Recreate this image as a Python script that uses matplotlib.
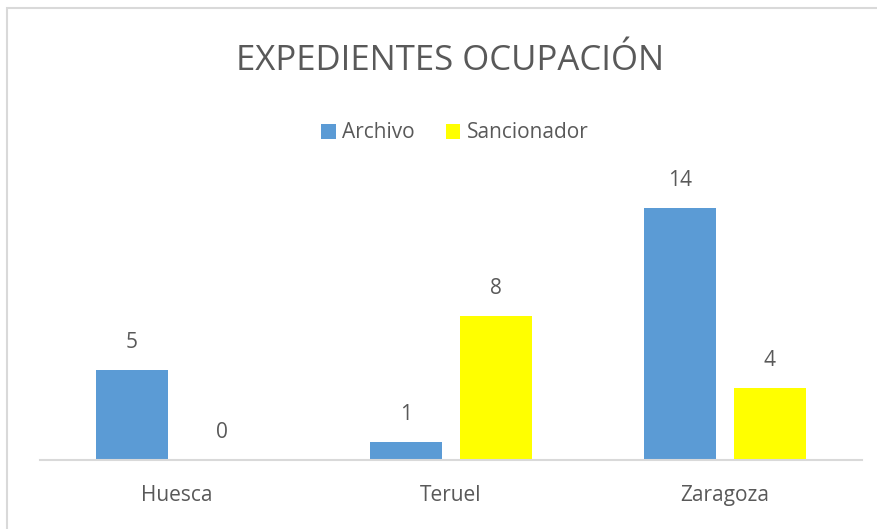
import numpy as np
import matplotlib.pyplot as plt
from matplotlib.patches import Rectangle

# datos
provincias = ['Huesca', 'Teruel', 'Zaragoza']
archivo = [5, 1, 14]
sancionador = [0, 8, 4]

azul = '#5B9BD5'
amarillo = '#FFFF00'
gris_texto = '#595959'

plt.rcParams['font.family'] = ['Open Sans', 'DejaVu Sans']

fig = plt.figure(figsize=(8.78, 5.29), dpi=100)

# borde del área del gráfico
fig.patches.append(Rectangle((7 / 878, -0.01), 1.0, 1 - 8 / 529 + 0.01,
                             transform=fig.transFigure, fill=False,
                             edgecolor='#D9D9D9', linewidth=1.5))

ax = fig.add_axes([40 / 878, 1 - 460 / 529, 822 / 878, 288 / 529])

x = np.arange(len(provincias))
ancho = 0.263
desp = 0.164

b1 = ax.bar(x - desp, archivo, ancho, color=azul, label='Archivo')
b2 = ax.bar(x + desp, sancionador, ancho, color=amarillo, label='Sancionador')

for barras in (b1, b2):
    for b in barras:
        ax.annotate(f'{int(b.get_height())}',
                    (b.get_x() + b.get_width() / 2, b.get_height()),
                    xytext=(0, 12), textcoords='offset points',
                    ha='center', va='bottom', fontsize=15, color=gris_texto)

ax.set_xlim(-0.5, 2.5)
ax.set_ylim(0, 16)
ax.set_yticks([])
ax.set_xticks(x)
ax.set_xticklabels(provincias, fontsize=15, color=gris_texto)
ax.tick_params(axis='x', length=0, pad=18)
for s in ['top', 'left', 'right']:
    ax.spines[s].set_visible(False)
ax.spines['bottom'].set_color('#D9D9D9')
ax.spines['bottom'].set_linewidth(1.5)

fig.text(0.513, 1 - 61 / 529, 'EXPEDIENTES OCUPACIÓN', ha='center', va='center',
         fontsize=25, color=gris_texto)

fig.legend(handles=[b1, b2], loc='center', bbox_to_anchor=(0.518, 1 - 133 / 529),
           ncol=2, frameon=False, fontsize=15, handlelength=0.7, handleheight=0.7,
           handletextpad=0.3, columnspacing=1.5, labelcolor=gris_texto)

fig.savefig('out.png', dpi=100)
